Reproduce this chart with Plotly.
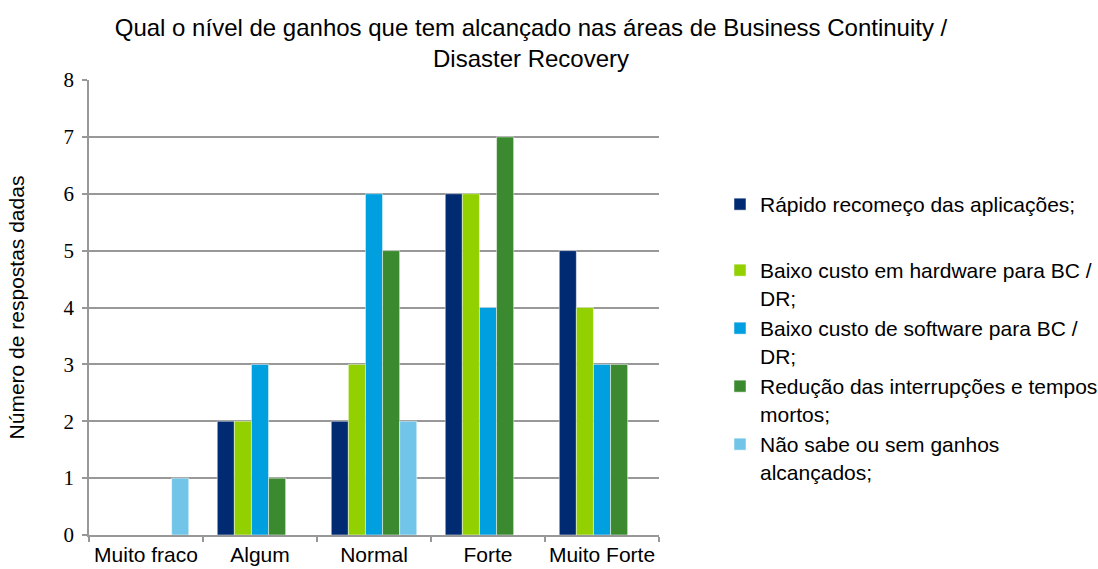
import plotly.graph_objects as go

categories = ["Muito fraco", "Algum", "Normal", "Forte", "Muito Forte"]
series_names = [
    "Rápido recomeço das aplicações;",
    "Baixo custo em hardware para BC /<br>DR;",
    "Baixo custo de software para BC /<br>DR;",
    "Redução das interrupções e tempos<br>mortos;",
    "Não sabe ou sem ganhos<br>alcançados;",
]
rapido = [0, 2, 2, 6, 5]
hardware = [0, 2, 3, 6, 4]
software = [0, 3, 6, 4, 3]
reducao = [0, 1, 5, 7, 3]
nao_sabe = [1, 0, 2, 0, 0]
series_values = [rapido, hardware, software, reducao, nao_sabe]
colors = ["#002B73", "#92D000", "#009FDF", "#3B8A2F", "#71C5E8"]

W, H = 1098, 569
L, R, T, B = 89, 659, 80, 535

SANS = "Liberation Sans, Arial"
GRID = "#989898"
legend_centers = [203, 269, 327, 385, 443]  # px of first text line
legend_left = 720

fig = go.Figure()
layout_legends = {}
for i, (name, vals, col) in enumerate(zip(series_names, series_values, colors)):
    key = "legend" if i == 0 else f"legend{i + 1}"
    fig.add_trace(go.Bar(
        x=categories, y=vals, name=name,
        marker=dict(color=col, line=dict(color="white", width=0.5)),
        legend=key,
    ))
    top = legend_centers[i] - 19
    layout_legends[key] = dict(
        x=(legend_left - L) / (R - L), xanchor="left",
        y=(B - top) / (B - T), yanchor="top",
        font=dict(family=SANS, size=21, color="black"),
        valign="top", bgcolor="rgba(0,0,0,0)",
    )

fig.update_layout(
    width=W, height=H,
    margin=dict(l=L, r=W - R, t=T, b=H - B, pad=0, autoexpand=False),
    paper_bgcolor="white", plot_bgcolor="white",
    barmode="group", bargap=0.25, bargroupgap=0,
    title=dict(
        text="Qual o nível de ganhos que tem alcançado nas áreas de Business Continuity /<br>Disaster Recovery",
        x=531 / W, xanchor="center", y=1 - 36 / H, yanchor="top",
        font=dict(family=SANS, size=24, color="black"),
    ),
    font=dict(family=SANS, color="black"),
    showlegend=True,
    **layout_legends,
)
fig.update_xaxes(
    type="category", showgrid=False, showline=True, linecolor=GRID, linewidth=1.5,
    ticks="outside", tickson="boundaries", ticklen=5, tickcolor=GRID, tickwidth=1.5,
    tickfont=dict(family=SANS, size=21, color="black"), tickangle=0, automargin=False,
)
fig.update_yaxes(
    range=[0, 8], dtick=1, showgrid=True, gridcolor=GRID, gridwidth=1.5,
    showline=True, linecolor=GRID, linewidth=1.5,
    ticks="outside", ticklen=5, tickcolor=GRID, tickwidth=1.5,
    tickfont=dict(family="Liberation Serif, Times New Roman", size=21, color="black"),
    ticklabelstandoff=4,
    title=dict(text="Número de respostas dadas", standoff=33,
               font=dict(family=SANS, size=21, color="black")),
    zeroline=False, automargin=False,
)

fig.write_html(
    "out.html",
    config={"displayModeBar": False},
    post_script="document.body.style.margin='0';document.body.style.overflow='hidden';",
)
